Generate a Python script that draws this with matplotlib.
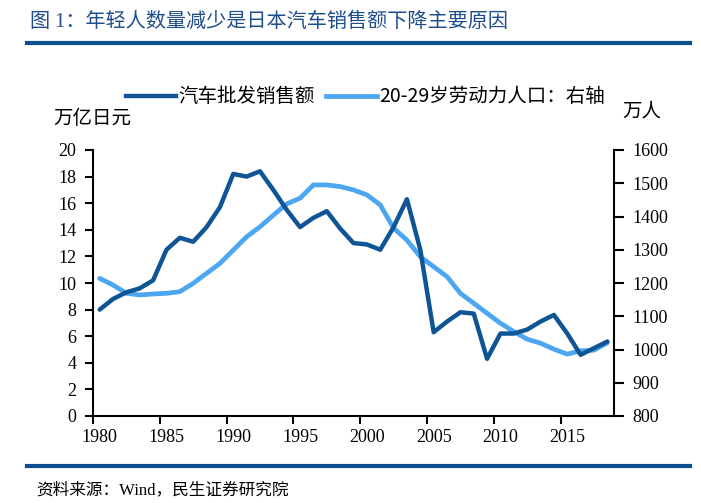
import numpy as np
import matplotlib.pyplot as plt
from matplotlib.lines import Line2D

plt.rcParams['font.family'] = ['Noto Sans CJK SC', 'DejaVu Sans']

# 数据
years = np.arange(1980, 2019)
sales = [8.0, 8.8, 9.3, 9.6, 10.2, 12.5, 13.4, 13.1, 14.2, 15.7,
         18.2, 18.0, 18.4, 17.0, 15.5, 14.2, 14.9, 15.4, 14.1, 13.0,
         12.9, 12.5, 14.2, 16.3, 12.5, 6.3, 7.1, 7.8, 7.7, 4.3,
         6.2, 6.2, 6.5, 7.1, 7.6, 6.2, 4.6, 5.1, 5.6]
labor = [1214, 1194, 1169, 1164, 1167, 1169, 1174, 1199, 1229, 1259,
         1299, 1339, 1369, 1404, 1438, 1455, 1495, 1495, 1490, 1480,
         1465, 1435, 1365, 1329, 1279, 1249, 1219, 1169, 1139, 1109,
         1079, 1054, 1031, 1019, 1001, 986, 996, 998, 1020]
xlabels = ['1980', '1985', '1990', '1995', '2000', '2005', '2010', '2015']

dark = '#0f5596'
light = '#4da6f0'
serif = ['Liberation Serif', 'DejaVu Serif']
mixed = ['Liberation Serif', 'Noto Sans CJK SC']

fig = plt.figure(figsize=(7.01, 5.03), dpi=100)
ax = fig.add_axes([93 / 701, 87 / 503, 521 / 701, 266 / 503])
ax2 = ax.twinx()

ax.plot(years, sales, color=dark, lw=3.2, solid_joinstyle='round', solid_capstyle='round', zorder=3)
ax2.plot(years, labor, color=light, lw=3.4, solid_joinstyle='round', solid_capstyle='round', zorder=2)
ax.set_zorder(ax2.get_zorder() + 1)
ax.patch.set_visible(False)

ax.set_xlim(1979.5, 2018.5)
ax.set_ylim(0, 20)
ax2.set_ylim(800, 1600)

ax.set_xticks(np.arange(1979.5, 2019, 5))
ax.set_xticklabels([])
ax.set_xticks(np.arange(1980, 2016, 5), minor=True)
ax.set_xticklabels(xlabels, minor=True, family=serif, fontsize=13)
ax.tick_params(axis='x', which='minor', length=0, pad=9)
ax.tick_params(axis='x', which='major', length=6, width=1.5, direction='out')

ax.set_yticks(np.arange(0, 21, 2))
ax.set_yticklabels([str(v) for v in range(0, 21, 2)], family=serif, fontsize=13)
ax.tick_params(axis='y', length=6, width=1.5, direction='out', pad=6)
ax2.set_yticks(np.arange(800, 1601, 100))
ax2.set_yticklabels([str(v) for v in range(800, 1601, 100)], family=serif, fontsize=13)
ax2.tick_params(axis='y', length=7, width=1.5, direction='out', pad=6)

for a in (ax, ax2):
    a.spines['top'].set_visible(False)
    for s in ('left', 'right', 'bottom'):
        a.spines[s].set_linewidth(1.5)
ax.spines['right'].set_visible(False)
ax2.spines['left'].set_visible(False)
ax2.spines['bottom'].set_visible(False)

handles = [Line2D([], [], color=dark, lw=3.2), Line2D([], [], color=light, lw=3.4)]
fig.legend(handles, ['汽车批发销售额', '20-29岁劳动力人口：右轴'],
           loc='center', bbox_to_anchor=(365 / 701, 1 - 97 / 503), ncol=2,
           frameon=False, fontsize=14, handlelength=2.6, handletextpad=0.1,
           columnspacing=0.6)

fig.text(53 / 701, 1 - 119 / 503, '万亿日元', fontsize=14, va='center', ha='left')
fig.text(622 / 701, 1 - 111 / 503, '万人', fontsize=14, va='center', ha='left')

# 标题与来源
fig.text(30 / 701, 1 - 22 / 503, '图 1：年轻人数量减少是日本汽车销售额下降主要原因',
         fontsize=14.5, color='#1f4e8c', family=mixed, fontweight='medium',
         va='center', ha='left')
fig.add_artist(Line2D([27 / 701, 690 / 701], [1 - 43 / 503] * 2, color='#0c4f8f', lw=3))
fig.add_artist(Line2D([27 / 701, 690 / 701], [1 - 466 / 503] * 2, color='#0c4f8f', lw=3))
fig.text(36 / 701, 1 - 490 / 503, '资料来源：Wind，民生证券研究院', fontsize=12,
         family=mixed, va='center', ha='left')

fig.savefig('out.png', dpi=100)
